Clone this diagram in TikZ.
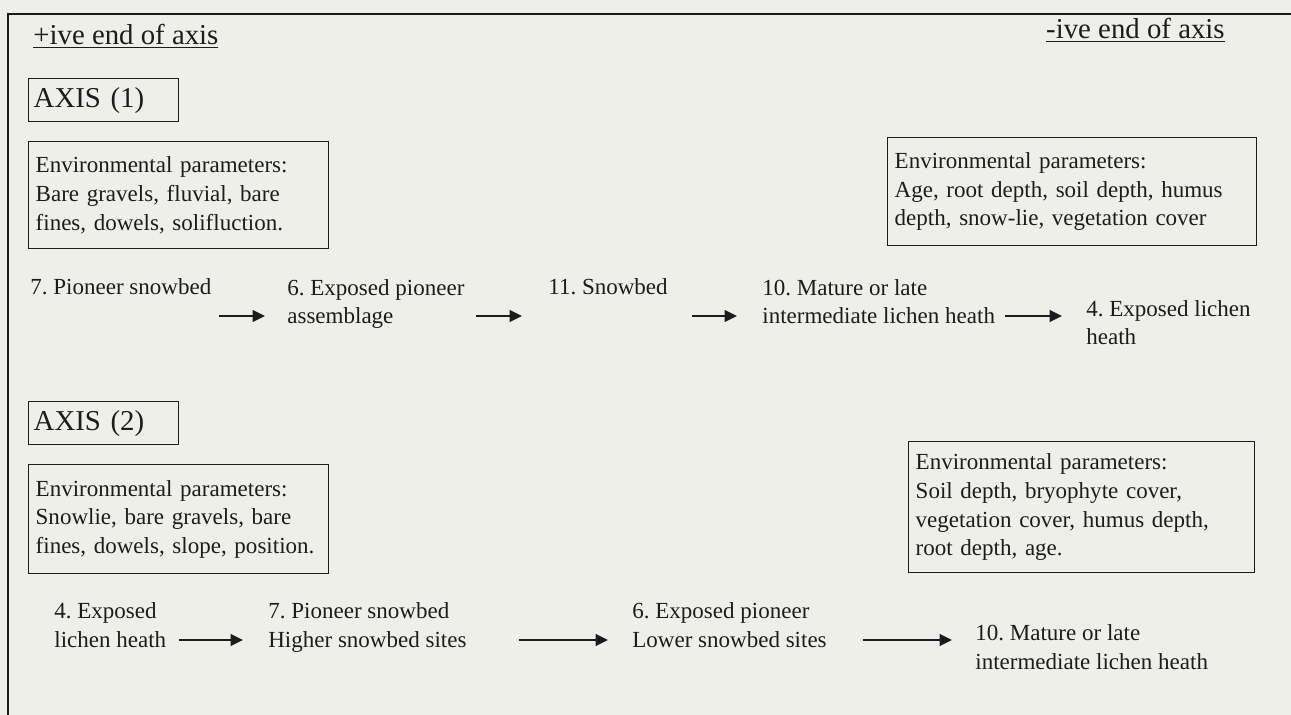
\documentclass[tikz,border=0pt]{standalone}
\usepackage{fontspec}
\setmainfont{Liberation Serif}
\usetikzlibrary{arrows.meta,calc}
\definecolor{paper}{RGB}{239,239,234}
\definecolor{ink}{RGB}{28,28,28}
\frenchspacing

\begin{document}
\begin{tikzpicture}[x=0.02cm,y=-0.02cm,
    every node/.style={text=ink},
    txt/.style={anchor=base west,inner sep=0pt,align=left,font=\fontsize{13.1}{16.3}\selectfont},
    head/.style={inner sep=0pt,font=\fontsize{16.4}{19}\selectfont},
    axisbox/.style={draw=ink,line width=0.8pt,anchor=north west,inner xsep=0.1cm,inner ysep=0pt,
        text width=2.8cm,minimum height=0.86cm,align=left,font=\fontsize{16.4}{19}\selectfont},
    envbox/.style={draw=ink,line width=0.8pt,anchor=north west,inner xsep=0.14cm,inner ysep=0pt,
        align=left,font=\fontsize{13.1}{16.3}\selectfont},
    flow/.style={ink,line width=1.3pt,-{Triangle[length=7pt,width=6.5pt]}}]

    \fill[paper] (0,0) rectangle (1291,715);
    \useasboundingbox (0,0) rectangle (1291,715);
    \draw[ink,line width=1.1pt] (1291,14) -- (8,14) -- (8,715);

    \node[head,anchor=base west] (plus) at (33,45) {\underline{+ive end of axis}};
    \node[head,anchor=base east] (minus) at (1225,39) {\underline{-ive end of axis}};

    % first axis (base anchor of a two-line node sits on its last line)
    \node[axisbox] (ax1) at (28,78) {AXIS (1)};
    \node[envbox,text width=5.72cm,minimum height=2.14cm] (envA1) at (28,141)
        {Environmental parameters:\\Bare gravels, fluvial, bare\\fines, dowels, solifluction.};
    \node[envbox,text width=7.1cm,minimum height=2.16cm] (envB1) at (887,137)
        {Environmental parameters:\\Age, root depth, soil depth, humus\\depth, snow-lie, vegetation cover};

    \coordinate (row1) at (0,316);
    \node[txt] (p7) at (30,295) {7. Pioneer snowbed};
    \node[txt] (p6) at (287,324) {6. Exposed pioneer\\assemblage};
    \node[txt] (p11) at (548,295) {11. Snowbed};
    \node[txt] (p10) at (762,324) {10. Mature or late\\intermediate lichen heath};
    \node[txt] (p4) at (1086,345) {4. Exposed lichen\\heath};

    \draw[flow] ($(p7.east |- row1)+(7,0)$) -- ($(p6.west |- row1)+(-22,0)$);
    \draw[flow] ($(p6.east |- row1)+(11,0)$) -- ($(p11.west |- row1)+(-26,0)$);
    \draw[flow] ($(p11.east |- row1)+(24,0)$) -- ($(p10.west |- row1)+(-25,0)$);
    \draw[flow] ($(p10.east |- row1)+(10,0)$) -- ($(p4.west |- row1)+(-24,0)$);

    % second axis
    \node[axisbox] (ax2) at (28,401) {AXIS (2)};
    \node[envbox,text width=5.72cm,minimum height=2.18cm] (envA2) at (28,464)
        {Environmental parameters:\\Snowlie, bare gravels, bare\\fines, dowels, slope, position.};
    \node[envbox,text width=6.64cm,minimum height=2.62cm] (envB2) at (908,441)
        {Environmental parameters:\\Soil depth, bryophyte cover,\\vegetation cover, humus depth,\\root depth, age.};

    \coordinate (row2) at (0,640);
    \node[txt] (q4) at (54,647) {4. Exposed\\lichen heath};
    \node[txt] (q7) at (268,647) {7. Pioneer snowbed\\Higher snowbed sites};
    \node[txt] (q6) at (632,647) {6. Exposed pioneer\\Lower snowbed sites};
    \node[txt] (q10) at (975,669) {10. Mature or late\\intermediate lichen heath};

    \draw[flow] ($(q4.east |- row2)+(12,0)$) -- ($(q7.west |- row2)+(-25,0)$);
    \draw[flow] ($(q7.east |- row2)+(52,0)$) -- ($(q6.west |- row2)+(-24,0)$);
    \draw[flow] ($(q6.east |- row2)+(36,0)$) -- ($(q10.west |- row2)+(-23,0)$);
\end{tikzpicture}
\end{document}
